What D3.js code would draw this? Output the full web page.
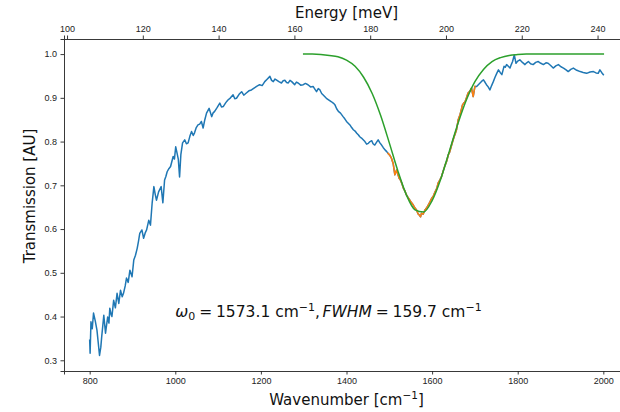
<!DOCTYPE html>
<html>
<head>
<meta charset="utf-8">
<script src="https://cdn.jsdelivr.net/npm/d3@7"></script>
<style>
  body { margin: 0; background: #fff; }
  svg { display: block; font-family: 'DejaVu Sans', sans-serif; }
  .tick text { fill: #222; font-size: 9px; }
  .domain, .tick line { stroke: #222; }
</style>
</head>
<body>
<div class="chart-container"></div>
<script>
// measured spectrum (wavenumber in cm-1, transmission in AU)
const wavenumber = [
  800, 801, 803, 806, 809, 813, 817, 820, 823, 826, 828, 833, 837, 842, 845, 847, 850, 852, 856, 860,
  864, 868, 872, 876, 879, 883, 886, 890, 894, 899, 903, 907, 911, 914, 917, 922, 926, 930, 933, 938,
  942, 946, 950, 953, 956, 961, 967, 971, 975, 978, 981, 985, 989, 995, 998, 1001, 1004, 1007, 1010, 1013,
  1017, 1022, 1026, 1030, 1034, 1038, 1042, 1045, 1049, 1053, 1057, 1061, 1065, 1069, 1073, 1079, 1085, 1088, 1092, 1098,
  1104, 1108, 1112, 1118, 1123, 1129, 1135, 1139, 1143, 1149, 1155, 1160, 1166, 1172, 1178, 1184, 1190, 1197, 1203, 1209,
  1214, 1221, 1225, 1229, 1233, 1236, 1242, 1248, 1252, 1256, 1260, 1264, 1268, 1272, 1276, 1279, 1283, 1287, 1293, 1299,
  1304, 1310, 1316, 1322, 1326, 1330, 1334, 1338, 1342, 1345, 1349, 1353, 1359, 1365, 1369, 1373, 1377, 1381, 1386, 1392,
  1396, 1400, 1404, 1408, 1412, 1416, 1420, 1424, 1428, 1431, 1435, 1439, 1443, 1447, 1451, 1455, 1459, 1462, 1466, 1470,
  1474, 1478, 1482, 1486, 1490, 1494, 1497, 1501, 1505, 1509, 1513, 1517, 1520, 1523, 1526, 1529, 1533, 1537, 1540, 1544,
  1548, 1552, 1556, 1560, 1564, 1567, 1570, 1573, 1575, 1579, 1583, 1587, 1591, 1595, 1599, 1603, 1607, 1611, 1614, 1618,
  1622, 1626, 1630, 1634, 1638, 1641, 1645, 1648, 1651, 1654, 1657, 1661, 1665, 1668, 1671, 1674, 1677, 1681, 1684, 1688,
  1692, 1696, 1700, 1704, 1708, 1712, 1716, 1720, 1724, 1727, 1731, 1735, 1739, 1743, 1747, 1751, 1755, 1759, 1763, 1768,
  1771, 1774, 1778, 1782, 1785, 1788, 1792, 1796, 1800, 1805, 1811, 1817, 1821, 1825, 1830, 1836, 1842, 1848, 1854, 1860,
  1866, 1871, 1877, 1883, 1889, 1895, 1901, 1907, 1913, 1918, 1924, 1930, 1938, 1946, 1953, 1961, 1969, 1977, 1983, 1988,
  1992, 1996, 2000
];
const transmission = [
  0.346, 0.316, 0.388, 0.372, 0.408, 0.390, 0.369, 0.340, 0.311, 0.330, 0.353, 0.403, 0.362, 0.399, 0.385, 0.419, 0.405, 0.400, 0.437, 0.420,
  0.453, 0.430, 0.460, 0.445, 0.453, 0.470, 0.488, 0.478, 0.506, 0.491, 0.529, 0.540, 0.556, 0.572, 0.590, 0.598, 0.579, 0.592, 0.598, 0.620,
  0.609, 0.660, 0.697, 0.680, 0.666, 0.685, 0.697, 0.660, 0.712, 0.720, 0.731, 0.738, 0.743, 0.766, 0.760, 0.788, 0.774, 0.760, 0.719, 0.770,
  0.797, 0.804, 0.795, 0.797, 0.812, 0.823, 0.814, 0.820, 0.832, 0.838, 0.840, 0.846, 0.831, 0.850, 0.865, 0.876, 0.857, 0.865, 0.869, 0.878,
  0.888, 0.879, 0.880, 0.889, 0.895, 0.900, 0.907, 0.898, 0.899, 0.908, 0.914, 0.906, 0.911, 0.916, 0.918, 0.922, 0.926, 0.930, 0.928, 0.937,
  0.942, 0.949, 0.940, 0.937, 0.943, 0.941, 0.937, 0.934, 0.939, 0.940, 0.935, 0.934, 0.940, 0.937, 0.933, 0.930, 0.936, 0.934, 0.929, 0.930,
  0.933, 0.930, 0.925, 0.926, 0.920, 0.914, 0.921, 0.918, 0.910, 0.907, 0.903, 0.899, 0.895, 0.891, 0.888, 0.884, 0.875, 0.869, 0.865, 0.857,
  0.852, 0.846, 0.842, 0.838, 0.832, 0.827, 0.824, 0.819, 0.815, 0.811, 0.808, 0.804, 0.800, 0.794, 0.796, 0.800, 0.802, 0.795, 0.792, 0.798,
  0.804, 0.797, 0.792, 0.786, 0.781, 0.777, 0.773, 0.769, 0.762, 0.750, 0.724, 0.735, 0.725, 0.716, 0.712, 0.705, 0.693, 0.686, 0.678, 0.672,
  0.666, 0.660, 0.655, 0.648, 0.643, 0.635, 0.632, 0.628, 0.636, 0.634, 0.643, 0.648, 0.655, 0.662, 0.670, 0.676, 0.685, 0.693, 0.705, 0.712,
  0.720, 0.733, 0.745, 0.755, 0.770, 0.776, 0.790, 0.800, 0.810, 0.818, 0.827, 0.850, 0.861, 0.872, 0.884, 0.888, 0.891, 0.902, 0.911, 0.915,
  0.922, 0.903, 0.926, 0.926, 0.930, 0.934, 0.938, 0.941, 0.935, 0.930, 0.925, 0.918, 0.928, 0.937, 0.947, 0.956, 0.964, 0.958, 0.953, 0.972,
  0.970, 0.976, 0.972, 0.968, 0.976, 0.983, 0.998, 0.979, 0.984, 0.987, 0.981, 0.976, 0.980, 0.983, 0.978, 0.976, 0.981, 0.983, 0.979, 0.976,
  0.980, 0.979, 0.974, 0.968, 0.973, 0.976, 0.971, 0.968, 0.964, 0.960, 0.965, 0.968, 0.963, 0.960, 0.958, 0.956, 0.959, 0.960, 0.957, 0.956,
  0.964, 0.958, 0.953
];
// window used for the fit (drawn in orange)
const fitRange = [1497, 1700];
// fitted curve
const fitWavenumber = [
  1300, 1320, 1340, 1360, 1380, 1400, 1420, 1440, 1460, 1480, 1500, 1520, 1540, 1560, 1580, 1600,
  1620, 1640, 1660, 1680, 1700, 1720, 1740, 1760, 1780, 1800, 1820, 1840, 1900, 1950, 2000
];
const fitTransmission = [
  1.000, 1.000, 0.999, 0.997, 0.994, 0.986, 0.972, 0.947, 0.910, 0.859, 0.797, 0.733, 0.678, 0.644, 0.639, 0.665,
  0.714, 0.777, 0.840, 0.895, 0.937, 0.965, 0.983, 0.992, 0.997, 0.999, 1.000, 1.000, 1.000, 1.000, 1.000
];
const xTicks = [800, 1000, 1200, 1400, 1600, 1800, 2000];
const yTicks = [0.3, 0.4, 0.5, 0.6, 0.7, 0.8, 0.9, 1.0];
const energyTicks = [100, 120, 140, 160, 180, 200, 220, 240];
const energyDomain = [99.2, 248.3];
const annotation = { x: 1000, y: 0.4 };

const width = 620;
const height = 412;
const margin = { top: 39, right: -9, bottom: 41, left: 64 };

function createSvg() {
  return d3.select('.chart-container')
    .append('svg')
    .attr('width', width)
    .attr('height', height);
};

function createScales() {
  const x = d3.scaleLinear().domain([740, 2060]).range([margin.left, width - margin.right]);
  const xTop = d3.scaleLinear().domain(energyDomain).range([margin.left, width - margin.right]);
  const y = d3.scaleLinear().domain([0.2755, 1.0345]).range([height - margin.bottom, margin.top]);
  return { x, xTop, y };
};

function drawAxes(svg, { x, xTop, y }) {
  svg.append('g')
    .attr('transform', `translate(0,${height - margin.bottom})`)
    .call(d3.axisBottom(x).tickValues(xTicks).tickFormat(d3.format('d')).tickSize(3.5).tickPadding(3.5));

  svg.append('g')
    .attr('transform', `translate(0,${margin.top})`)
    .call(d3.axisTop(xTop).tickValues(energyTicks).tickFormat(d3.format('d')).tickSize(3.5).tickPadding(3.5));

  svg.append('g')
    .attr('transform', `translate(${margin.left},0)`)
    .call(d3.axisLeft(y).tickValues(yTicks).tickFormat(d3.format('.1f')).tickSize(3.5).tickPadding(3.5));

  svg.append('g')
    .attr('transform', `translate(${width - margin.right},0)`)
    .call(d3.axisRight(y).tickValues([]).tickSizeOuter(0));

  svg.selectAll('.domain').attr('stroke-width', 0.9);
  svg.selectAll('.tick line').attr('stroke-width', 0.9);
};

function drawLabels(svg) {
  const cx = (margin.left + width - margin.right) / 2;

  svg.append('text')
    .attr('x', cx).attr('y', 18)
    .attr('text-anchor', 'middle')
    .attr('font-size', 15).attr('fill', '#111')
    .text('Energy [meV]');

  const xl = svg.append('text')
    .attr('x', cx).attr('y', 405)
    .attr('text-anchor', 'middle')
    .attr('font-size', 15).attr('fill', '#111');
  xl.append('tspan').text('Wavenumber [cm');
  xl.append('tspan').attr('font-size', 10.5).attr('dy', -6).text('\u22121');
  xl.append('tspan').attr('dy', 6).text(']');

  svg.append('text')
    .attr('transform', 'translate(35,196) rotate(-90)')
    .attr('text-anchor', 'middle')
    .attr('font-size', 15).attr('fill', '#111')
    .text('Transmission [AU]');
};

function drawAnnotation(svg, { x, y }) {
  const t = svg.append('text')
    .attr('x', x(annotation.x)).attr('y', y(annotation.y))
    .attr('font-size', 15.5).attr('fill', '#111');
  t.append('tspan').attr('font-style', 'italic').text('\u03c9');
  t.append('tspan').attr('font-size', 11).attr('dy', 3).text('0');
  t.append('tspan').attr('dy', -3).text('\u2005=\u20051573.1 cm');
  t.append('tspan').attr('font-size', 11).attr('dy', -6).text('\u22121');
  t.append('tspan').attr('dy', 6).text(',\u2006');
  t.append('tspan').attr('font-style', 'italic').text('FWHM');
  t.append('tspan').text('\u2005=\u2005159.7 cm');
  t.append('tspan').attr('font-size', 11).attr('dy', -6).text('\u22121');
};

function drawLines(svg, { x, y }) {
  const points = wavenumber.map((w, i) => ({ w, t: transmission[i] }));
  const fitted = points.filter(d => d.w >= fitRange[0] && d.w <= fitRange[1]);
  const model = fitWavenumber.map((w, i) => ({ w, t: fitTransmission[i] }));

  const line = d3.line().x(d => x(d.w)).y(d => y(d.t));
  const smooth = d3.line().x(d => x(d.w)).y(d => y(d.t)).curve(d3.curveMonotoneX);

  const g = svg.append('g').attr('fill', 'none').attr('stroke-width', 1.5)
    .attr('stroke-linejoin', 'round').attr('stroke-linecap', 'square');
  g.append('path').datum(points).attr('stroke', '#1f77b4').attr('d', line);
  g.append('path').datum(fitted).attr('stroke', '#ff7f0e').attr('d', line);
  g.append('path').datum(model).attr('stroke', '#2ca02c').attr('d', smooth);
};

const svg = createSvg();
const scales = createScales();
drawLines(svg, scales);
drawAxes(svg, scales);
drawLabels(svg);
drawAnnotation(svg, scales);
</script>
</body>
</html>
